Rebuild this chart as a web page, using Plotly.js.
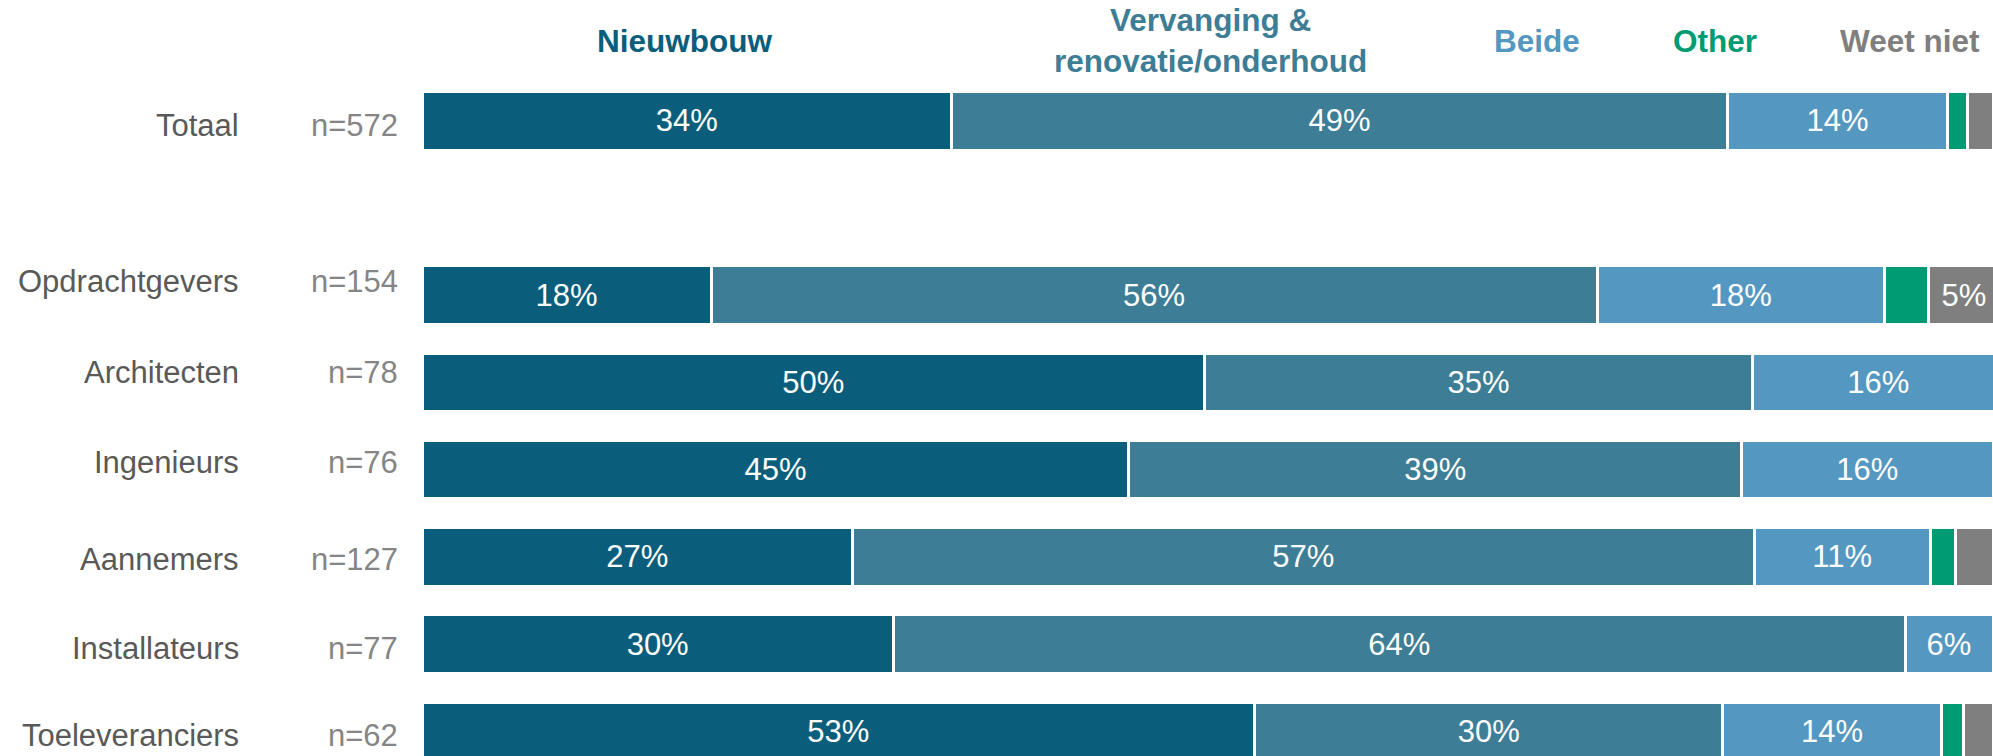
<!DOCTYPE html>
<html>
<head>
<meta charset="utf-8">
<script src="https://cdn.plot.ly/plotly-3.0.1.min.js"></script>
<style>html,body{margin:0;padding:0;background:#fff;}#chart{width:1993px;height:756px;}</style>
</head>
<body>
<div id="chart"></div>
<script>
// Categories (top to bottom); a blank spacer row sits between Totaal and the groups
const groups = ['Totaal', 'Opdrachtgevers', 'Architecten', 'Ingenieurs', 'Aannemers', 'Installateurs', 'Toeleveranciers'];
const spacer = ' ';
const sampleSizes = ['n=572', 'n=154', 'n=78', 'n=76', 'n=127', 'n=77', 'n=62'];

// Series (percent; labels are the rounded values)
const seriesNames = ['Nieuwbouw', 'Vervanging &<br>renovatie/onderhoud', 'Beide', 'Other', 'Weet niet'];
const nieuwbouw  = [33.7, 18.4, 49.8, 45.0, 27.4, 30.0, 53.0];
const vervanging = [49.4, 56.4, 34.9, 39.0, 57.4, 64.4, 29.8];
const beide      = [14.0, 18.3, 16.0, 16.0, 11.2, 5.6, 13.9];
const other      = [1.3, 2.8, 0, 0, 1.6, 0, 1.4];
const weetNiet   = [1.6, 4.5, 0, 0, 2.4, 0, 1.9];
const seriesColors = ['#0b5e7b', '#3d7d95', '#5497c1', '#009b72', '#7f7f7f'];

const allSeries = [nieuwbouw, vervanging, beide, other, weetNiet];
const FONT = '"Liberation Sans", Arial, sans-serif';

const traces = allSeries.map((vals, i) => ({
  type: 'bar',
  orientation: 'h',
  name: seriesNames[i],
  y: groups,
  x: vals,
  marker: {color: seriesColors[i], line: {color: '#ffffff', width: 3}},
  text: vals.map(v => v >= 4.5 ? Math.round(v) + '%' : ''),
  textposition: 'inside',
  insidetextanchor: 'middle',
  textangle: 0,
  constraintext: 'none',
  textfont: {family: FONT, size: 31, color: '#ffffff'},
  hoverinfo: 'skip'
}));

const categoryOrder = [groups[0], spacer].concat(groups.slice(1));

// small vertical nudges (px) of the row labels, as in the source layout
const labelShift = [-5, 14, 10, 7, -3, -4, -4];

const annotations = [];
groups.forEach((g, i) => {
  annotations.push({
    xref: 'paper', yref: 'y', x: -0.1152, y: g, xanchor: 'right', yanchor: 'middle', yshift: labelShift[i],
    text: g, showarrow: false, font: {family: FONT, size: 31, color: '#595959'}
  });
  annotations.push({
    xref: 'paper', yref: 'y', x: -0.014, y: g, xanchor: 'right', yanchor: 'middle', yshift: labelShift[i],
    text: sampleSizes[i], showarrow: false, font: {family: FONT, size: 31, color: '#858585'}
  });
});
const headerX = [0.1674, 0.5022, 0.7097, 0.823, 0.947];
seriesNames.forEach((s, i) => {
  annotations.push({
    xref: 'paper', yref: 'paper', x: headerX[i], y: 0.946, xanchor: 'center', yanchor: 'middle',
    text: '<b>' + s + '</b>', showarrow: false, align: 'center',
    font: {family: FONT, size: 31.5, color: seriesColors[i]}
  });
});

const layout = {
  width: 1993, height: 756,
  margin: {l: 422, r: 0, t: 0, b: 0, pad: 0},
  barmode: 'stack',
  bargap: 0.33,
  showlegend: false,
  paper_bgcolor: '#ffffff',
  plot_bgcolor: '#ffffff',
  xaxis: {range: [0, 100], visible: false, fixedrange: true},
  yaxis: {
    type: 'category', categoryorder: 'array', categoryarray: categoryOrder,
    range: [7.284, -1.385], showticklabels: false, showgrid: false, zeroline: false, showline: false, ticks: ''
  },
  annotations: annotations,
  font: {family: FONT}
};

Plotly.newPlot('chart', traces, layout, {staticPlot: true, displayModeBar: false});
</script>
</body>
</html>
